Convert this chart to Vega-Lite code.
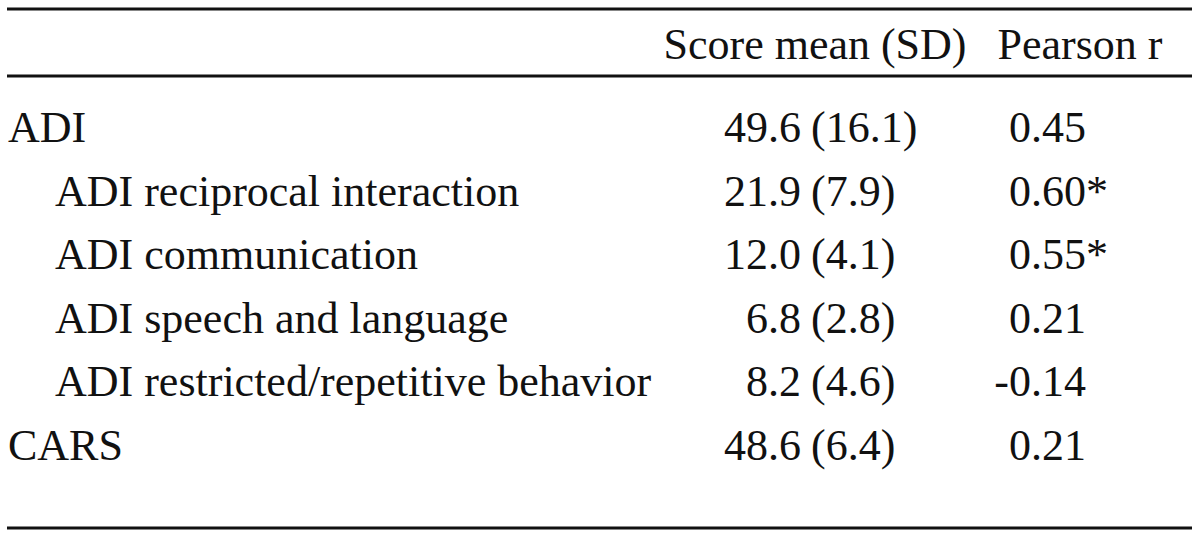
{
  "$schema": "https://vega.github.io/schema/vega-lite/v6.json",
  "width": 1200,
  "height": 537,
  "padding": 0,
  "autosize": {"type": "fit", "contains": "padding"},
  "background": "white",
  "config": {"view": {"stroke": null}, "text": {"font": "Liberation Serif", "fontSize": 44, "color": "#111111", "baseline": "middle"}},
  "datasets": {
    "rows": [
      {"row": 1, "level": 0, "label": "ADI", "mean": "49.6", "sd": "(16.1)", "r": "0.45", "sig": ""},
      {"row": 2, "level": 1, "label": "ADI reciprocal interaction", "mean": "21.9", "sd": "(7.9)", "r": "0.60", "sig": "*"},
      {"row": 3, "level": 1, "label": "ADI communication", "mean": "12.0", "sd": "(4.1)", "r": "0.55", "sig": "*"},
      {"row": 4, "level": 1, "label": "ADI speech and language", "mean": "6.8", "sd": "(2.8)", "r": "0.21", "sig": ""},
      {"row": 5, "level": 1, "label": "ADI restricted/repetitive behavior", "mean": "8.2", "sd": "(4.6)", "r": "-0.14", "sig": ""},
      {"row": 6, "level": 0, "label": "CARS", "mean": "48.6", "sd": "(6.4)", "r": "0.21", "sig": ""}
    ],
    "headers": [
      {"col": "mean", "text": "Score mean (SD)"},
      {"col": "r", "text": "Pearson r"}
    ],
    "rules": [
      {"name": "top"},
      {"name": "head"},
      {"name": "bottom"}
    ]
  },
  "data": {"name": "rows"},
  "layer": [
    {
      "data": {"name": "rules"},
      "transform": [{"filter": "datum.name === 'top'"}],
      "mark": {"type": "rule", "strokeWidth": 3, "color": "#111111"},
      "encoding": {
        "x": {"datum": 7, "type": "quantitative", "scale": {"domain": [0, 1200], "nice": false, "zero": false}, "axis": null},
        "x2": {"datum": 1192},
        "y": {"datum": -0.8868, "type": "quantitative", "scale": {"domain": [-1.0283, 7.4151], "nice": false, "zero": false, "reverse": true}, "axis": null}
      }
    },
    {
      "data": {"name": "rules"},
      "transform": [{"filter": "datum.name === 'head'"}],
      "mark": {"type": "rule", "strokeWidth": 3, "color": "#111111"},
      "encoding": {
        "x": {"datum": 7, "type": "quantitative"},
        "x2": {"datum": 1192},
        "y": {"datum": 0.1667, "type": "quantitative"}
      }
    },
    {
      "data": {"name": "rules"},
      "transform": [{"filter": "datum.name === 'bottom'"}],
      "mark": {"type": "rule", "strokeWidth": 3, "color": "#111111"},
      "encoding": {
        "x": {"datum": 7, "type": "quantitative"},
        "x2": {"datum": 1192},
        "y": {"datum": 7.2736, "type": "quantitative"}
      }
    },
    {
      "data": {"name": "headers"},
      "transform": [{"filter": "datum.col === 'mean'"}],
      "mark": {"type": "text", "align": "center"},
      "encoding": {
        "x": {"datum": 815, "type": "quantitative"},
        "y": {"datum": -0.305, "type": "quantitative"},
        "text": {"field": "text"}
      }
    },
    {
      "data": {"name": "headers"},
      "transform": [{"filter": "datum.col === 'r'"}],
      "mark": {"type": "text", "align": "center"},
      "encoding": {
        "x": {"datum": 1080, "type": "quantitative"},
        "y": {"datum": -0.305, "type": "quantitative"},
        "text": {"field": "text"}
      }
    },
    {
      "transform": [{"filter": "datum.level === 0"}],
      "mark": {"type": "text", "align": "left"},
      "encoding": {
        "x": {"datum": 8, "type": "quantitative"},
        "y": {"field": "row", "type": "quantitative"},
        "text": {"field": "label"}
      }
    },
    {
      "transform": [{"filter": "datum.level === 1"}],
      "mark": {"type": "text", "align": "left"},
      "encoding": {
        "x": {"datum": 55, "type": "quantitative"},
        "y": {"field": "row", "type": "quantitative"},
        "text": {"field": "label"}
      }
    },
    {
      "mark": {"type": "text", "align": "right"},
      "encoding": {
        "x": {"datum": 801, "type": "quantitative"},
        "y": {"field": "row", "type": "quantitative"},
        "text": {"field": "mean"}
      }
    },
    {
      "mark": {"type": "text", "align": "left"},
      "encoding": {
        "x": {"datum": 811, "type": "quantitative"},
        "y": {"field": "row", "type": "quantitative"},
        "text": {"field": "sd"}
      }
    },
    {
      "mark": {"type": "text", "align": "right"},
      "encoding": {
        "x": {"datum": 1086, "type": "quantitative"},
        "y": {"field": "row", "type": "quantitative"},
        "text": {"field": "r"}
      }
    },
    {
      "mark": {"type": "text", "align": "left"},
      "encoding": {
        "x": {"datum": 1086, "type": "quantitative"},
        "y": {"field": "row", "type": "quantitative"},
        "text": {"field": "sig"}
      }
    }
  ]
}
